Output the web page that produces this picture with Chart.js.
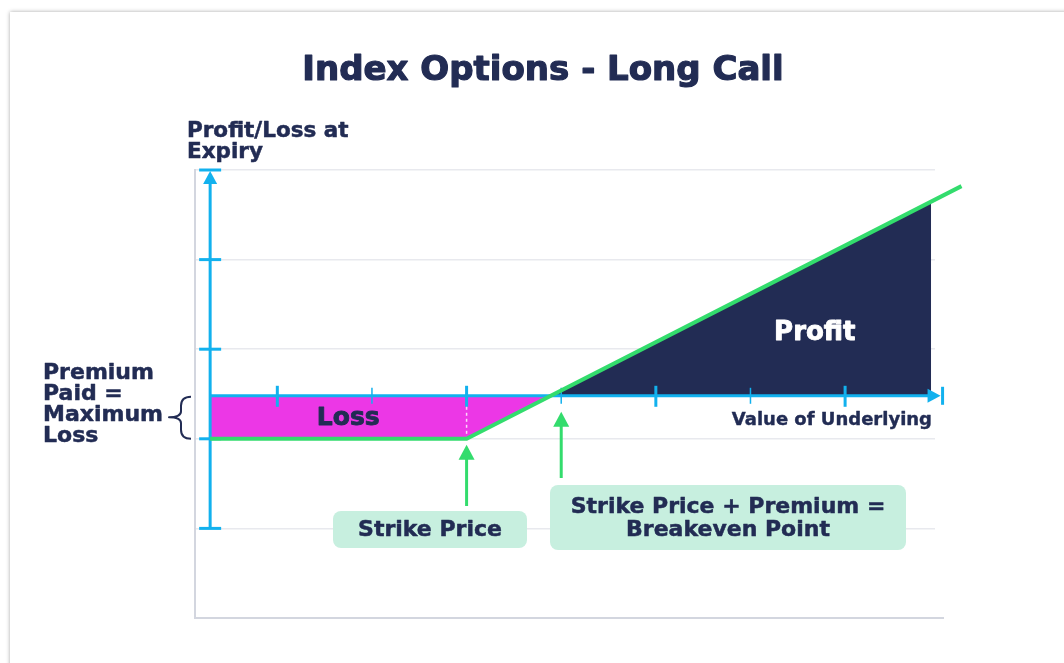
<!DOCTYPE html>
<html>
<head>
<meta charset="utf-8">
<script src="https://cdn.jsdelivr.net/npm/chart.js@4.4.1/dist/chart.umd.min.js"></script>
<style>
  html, body { margin: 0; padding: 0; background: #fff; overflow: hidden; }
  #card { position: absolute; left: 10px; top: 12px; width: 1080px; height: 690px; background: #fff; box-shadow: 0 0 4px rgba(0,0,0,0.35); }
  #wrap { position: absolute; left: 0; top: 0; width: 1064px; height: 663px; }
</style>
</head>
<body>
<div id="card"></div>
<div id="wrap"><canvas id="longCallChart"></canvas></div>
<script>
// long-call payoff diagram

const FONT = '"DejaVu Sans", Inter, sans-serif';
const NAVY = '#222c54';
const BLUE = '#12b1ee';
const GREEN = '#33dc6d';
const MAGENTA = '#ec37e6';
const MINT = '#c7efdf';

// ---- data (x in tick steps, y in grid rows) ----
const xTicks = [1, 2, 3, 4, 5, 6, 7];
const majorTicks = [1, 3, 5, 7];
const yRows = [1, 2, 3, 4, 5];
const payoffX = [0.29, 3, 8.23];
const payoffY = [2, 2, 4.82];
const areaX = [0.29, 3, 7.91];
const areaY = [2, 2, 4.65];
const zeroLevel = 2.48;      // P/L = 0
const premiumLevel = 2;      // P/L = -premium
const strikeX = 3;
const breakevenX = 4;
const axisStartX = 0.29;
const axisEndX = 8.03;
const labels = {
  title: 'Index Options - Long Call',
  yTitle: ['Profit/Loss at', 'Expiry'],
  premium: ['Premium', 'Paid =', 'Maximum', 'Loss'],
  xTitle: 'Value of Underlying',
  loss: 'Loss',
  profit: 'Profit',
  strike: ['Strike Price'],
  breakeven: ['Strike Price + Premium =', 'Breakeven Point'],
};

const toPoints = (xs, ys) => xs.map((v, i) => ({ x: v, y: ys[i] }));

// heavy text: fill plus a thin stroke in the same colour
function heavyText(ctx, text, x, y, color, weight) {
  ctx.fillStyle = color;
  ctx.strokeStyle = color;
  ctx.lineWidth = weight;
  ctx.lineJoin = 'round';
  ctx.fillText(text, x, y);
  ctx.strokeText(text, x, y);
}

function arrowUp(ctx, x, tipY, baseY, color) {
  ctx.save();
  ctx.strokeStyle = color;
  ctx.fillStyle = color;
  ctx.lineWidth = 3;
  ctx.beginPath();
  ctx.moveTo(x, baseY);
  ctx.lineTo(x, tipY + 12);
  ctx.stroke();
  ctx.beginPath();
  ctx.moveTo(x, tipY);
  ctx.lineTo(x - 8, tipY + 15);
  ctx.lineTo(x + 8, tipY + 15);
  ctx.closePath();
  ctx.fill();
  ctx.restore();
}

function labelBox(ctx, left, top, right, bottom, lines, lineGap) {
  ctx.save();
  ctx.fillStyle = MINT;
  ctx.beginPath();
  ctx.roundRect(left, top, right - left, bottom - top, 8);
  ctx.fill();
  ctx.font = `bold 22px ${FONT}`;
  ctx.textAlign = 'center';
  ctx.textBaseline = 'middle';
  const cx = (left + right) / 2;
  const cy = (top + bottom) / 2;
  lines.forEach((t, i) => {
    heavyText(ctx, t, cx, cy + 1 + (i - (lines.length - 1) / 2) * lineGap, NAVY, 0.5);
  });
  ctx.restore();
}

const diagramPlugin = {
  id: 'diagramPlugin',
  // blue axes go between the shaded areas and the payoff line
  beforeDatasetDraw(chart, args) {
    if (args.index !== 1) return;
    const { ctx, scales: { x, y } } = chart;
    const x0 = x.getPixelForValue(axisStartX);
    const xEnd = x.getPixelForValue(axisEndX);
    const y0 = y.getPixelForValue(zeroLevel);
    const yTop = y.getPixelForValue(5);
    const yBot = y.getPixelForValue(1);

    ctx.save();
    ctx.strokeStyle = BLUE;
    ctx.fillStyle = BLUE;
    ctx.lineWidth = 3;
    ctx.beginPath();
    ctx.moveTo(x0, yBot);
    ctx.lineTo(x0, yTop + 10);
    ctx.stroke();
    ctx.beginPath();
    ctx.moveTo(x0, yTop + 1);
    ctx.lineTo(x0 - 7, yTop + 14);
    ctx.lineTo(x0 + 7, yTop + 14);
    ctx.closePath();
    ctx.fill();
    yRows.forEach(v => {
      const py = y.getPixelForValue(v);
      ctx.beginPath();
      ctx.moveTo(x0 - 11, py);
      ctx.lineTo(x0 + 11, py);
      ctx.stroke();
    });

    ctx.beginPath();
    ctx.moveTo(x0, y0);
    ctx.lineTo(xEnd - 12, y0);
    ctx.stroke();
    ctx.beginPath();
    ctx.moveTo(xEnd - 2, y0);
    ctx.lineTo(xEnd - 15, y0 - 7);
    ctx.lineTo(xEnd - 15, y0 + 7);
    ctx.closePath();
    ctx.fill();
    ctx.beginPath();
    ctx.moveTo(xEnd, y0 - 9);
    ctx.lineTo(xEnd, y0 + 9);
    ctx.stroke();

    xTicks.forEach(v => {
      const px = x.getPixelForValue(v);
      const major = majorTicks.includes(v);
      ctx.lineWidth = major ? 3 : 1.5;
      ctx.beginPath();
      ctx.moveTo(px, y0 - (major ? 10 : 8));
      ctx.lineTo(px, y0 + (major ? 11 : 8));
      ctx.stroke();
    });

    // dashed drop from the strike tick to the payoff kink
    const sx = x.getPixelForValue(strikeX);
    ctx.strokeStyle = 'rgba(255,255,255,0.8)';
    ctx.lineWidth = 1.5;
    ctx.setLineDash([3, 3]);
    ctx.beginPath();
    ctx.moveTo(sx, y0 + 11);
    ctx.lineTo(sx, y.getPixelForValue(premiumLevel) - 2);
    ctx.stroke();
    ctx.restore();
  },

  afterDatasetsDraw(chart) {
    const { ctx, chartArea, scales: { x, y } } = chart;
    const y0 = y.getPixelForValue(zeroLevel);
    const yPrem = y.getPixelForValue(premiumLevel);

    // plot frame runs a little past the grid on the right
    ctx.save();
    ctx.strokeStyle = '#d3d6df';
    ctx.lineWidth = 2;
    ctx.beginPath();
    ctx.moveTo(chartArea.right, chartArea.bottom);
    ctx.lineTo(chartArea.right + 9, chartArea.bottom);
    ctx.stroke();

    ctx.textAlign = 'center';
    ctx.textBaseline = 'middle';
    ctx.font = `bold 25px ${FONT}`;
    heavyText(ctx, labels.loss, x.getPixelForValue(1.75), (y0 + yPrem) / 2 + 1, NAVY, 0.9);
    ctx.font = `bold 26px ${FONT}`;
    heavyText(ctx, labels.profit, x.getPixelForValue(6.68), y.getPixelForValue(3.18), '#fff', 0.9);

    ctx.font = `bold 18px ${FONT}`;
    ctx.textAlign = 'right';
    heavyText(ctx, labels.xTitle, chartArea.right - 3, y0 + 25, NAVY, 0.4);
    ctx.restore();

    arrowUp(ctx, x.getPixelForValue(strikeX), yPrem + 6, 506, GREEN);
    arrowUp(ctx, x.getPixelForValue(breakevenX), y0 + 16, 478, GREEN);

    labelBox(ctx, 333, 511, 527, 548, labels.strike, 23);
    labelBox(ctx, 550, 485, 906, 550, labels.breakeven, 23);
  },

  afterDraw(chart) {
    const { ctx, width, scales: { y } } = chart;
    const y0 = y.getPixelForValue(zeroLevel);
    const yPrem = y.getPixelForValue(premiumLevel);

    ctx.save();
    ctx.textAlign = 'center';
    ctx.textBaseline = 'alphabetic';
    ctx.font = `bold 34px ${FONT}`;
    heavyText(ctx, labels.title, width / 2 + 11, 80, NAVY, 1.2);

    ctx.textAlign = 'left';
    ctx.font = `bold 21.5px ${FONT}`;
    labels.yTitle.forEach((t, i) => heavyText(ctx, t, 187, 137 + i * 21, NAVY, 0.5));
    ctx.font = `bold 22px ${FONT}`;
    labels.premium.forEach((t, i) => heavyText(ctx, t, 43, 379 + i * 21, NAVY, 0.5));

    // curly brace spanning the premium
    const bx = 181;
    const mid = (y0 + yPrem) / 2;
    ctx.strokeStyle = NAVY;
    ctx.lineWidth = 2;
    ctx.beginPath();
    ctx.moveTo(bx + 10, y0 + 1);
    ctx.quadraticCurveTo(bx, y0 + 1, bx, y0 + 10);
    ctx.lineTo(bx, mid - 6);
    ctx.quadraticCurveTo(bx, mid, bx - 12, mid);
    ctx.quadraticCurveTo(bx, mid, bx, mid + 6);
    ctx.lineTo(bx, yPrem - 9);
    ctx.quadraticCurveTo(bx, yPrem, bx + 10, yPrem);
    ctx.stroke();
    ctx.restore();
  }
};

Chart.register(diagramPlugin);

new Chart(document.getElementById('longCallChart'), {
  type: 'line',
  data: {
    datasets: [
      {
        label: 'P/L area',
        data: toPoints(areaX, areaY),
        borderWidth: 0,
        pointRadius: 0,
        fill: { target: { value: zeroLevel }, above: NAVY, below: MAGENTA },
        order: 2,
      },
      {
        label: 'Payoff at expiry',
        data: toPoints(payoffX, payoffY),
        borderColor: GREEN,
        borderWidth: 4,
        pointRadius: 0,
        fill: false,
        clip: false,
        order: 1,
      }
    ]
  },
  options: {
    responsive: true,
    maintainAspectRatio: false,
    animation: false,
    events: [],
    layout: { padding: { left: 195, right: 129, top: 170, bottom: 45 } },
    scales: {
      x: {
        type: 'linear',
        min: 0.13,
        max: 7.95,
        ticks: { display: false },
        grid: { display: false, drawTicks: false },
        border: { display: true, color: '#d3d6df', width: 2 },
      },
      y: {
        min: 0,
        max: 5,
        ticks: { display: false, stepSize: 1 },
        grid: { color: '#e8e9ee', lineWidth: 1.5, drawTicks: false },
        border: { display: true, color: '#d3d6df', width: 2 },
      }
    },
    plugins: {
      legend: { display: false },
      tooltip: { enabled: false },
    }
  }
});
</script>
</body>
</html>
